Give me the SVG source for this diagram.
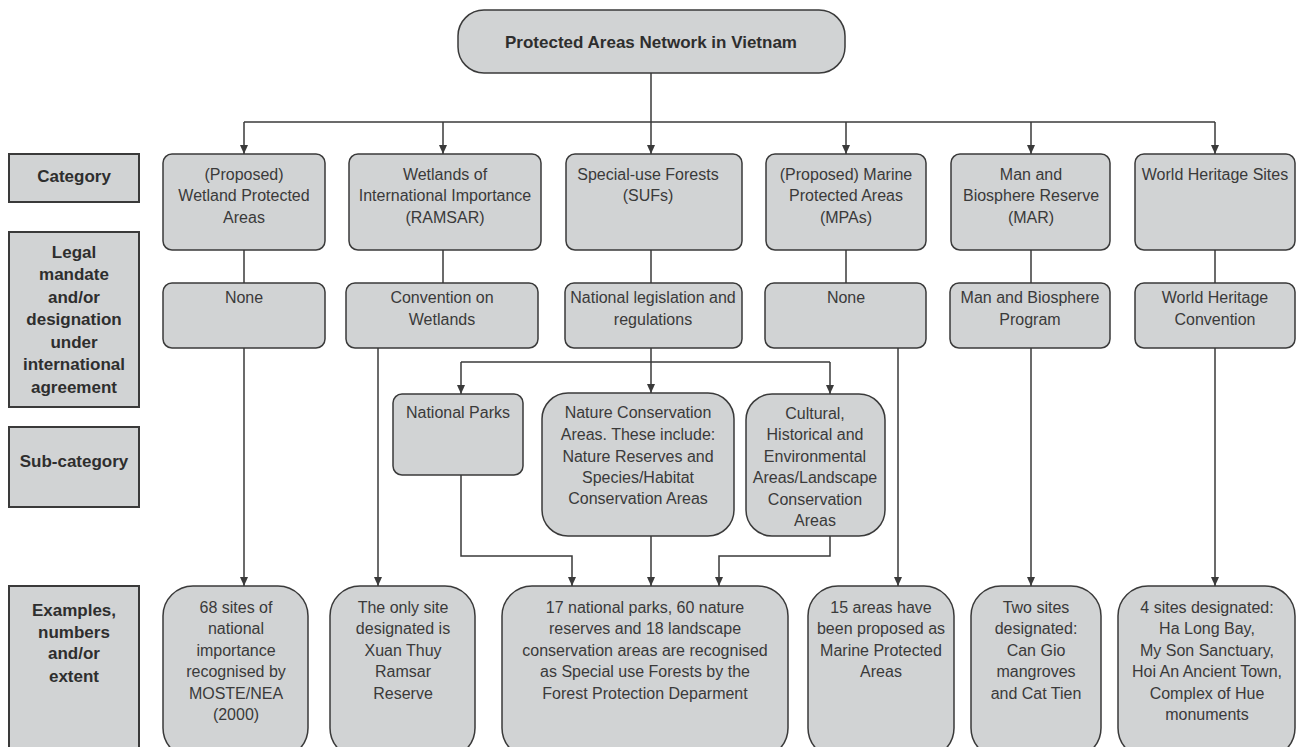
<svg xmlns="http://www.w3.org/2000/svg" width="1297" height="747" viewBox="0 0 1297 747">
<style>
.box{fill:#d1d3d4;stroke:#3a3a3a;stroke-width:1.5}
.lbl{fill:#d1d3d4;stroke:#3a3a3a;stroke-width:2}
.t{font-family:"Liberation Sans",Arial,sans-serif;font-size:16px;fill:#3a3a3a;text-anchor:middle}
.b{font-family:"Liberation Sans",Arial,sans-serif;font-size:17px;font-weight:bold;fill:#2e2e2e;text-anchor:middle}
.c{fill:none;stroke:#3a3a3a;stroke-width:1.5}
.a{marker-end:url(#arr)}
</style>
<defs>
<marker id="arr" markerUnits="userSpaceOnUse" markerWidth="9" markerHeight="8" refX="9" refY="4" orient="auto">
<path d="M0,0 L9,4 L0,8 z" fill="#3a3a3a"/>
</marker>
</defs>
<rect width="1297" height="747" fill="#ffffff"/>

<g id="connectors">
<path class="c" d="M651,73 V122"/>
<path class="c" d="M244,122 H1215"/>
<path class="c a" d="M244,122 V154"/>
<path class="c a" d="M443,122 V154"/>
<path class="c a" d="M651,122 V154"/>
<path class="c a" d="M846,122 V154"/>
<path class="c a" d="M1031,122 V154"/>
<path class="c a" d="M1215,122 V154"/>
<path class="c" d="M244,250 V283"/>
<path class="c" d="M443,250 V283"/>
<path class="c" d="M651,250 V283"/>
<path class="c" d="M846,250 V283"/>
<path class="c" d="M1031,250 V283"/>
<path class="c" d="M1215,250 V283"/>
<path class="c a" d="M244,348 V586"/>
<path class="c a" d="M378,348 V586"/>
<path class="c" d="M651,348 V362"/>
<path class="c" d="M461,362 H830"/>
<path class="c a" d="M461,362 V394"/>
<path class="c a" d="M651,362 V393"/>
<path class="c a" d="M830,362 V394"/>
<path class="c a" d="M898,348 V586"/>
<path class="c a" d="M1031,348 V586"/>
<path class="c a" d="M1215,348 V586"/>
<path class="c a" d="M461,475 V556 H572 V586"/>
<path class="c a" d="M651,536 V586"/>
<path class="c a" d="M830,536 V556 H719 V586"/>
</g>

<g id="root">
<rect class="box" x="458" y="10" width="387" height="63" rx="26"/>
<text class="b" x="651" y="48">Protected Areas Network in Vietnam</text>
</g>

<g id="label-category">
<rect class="lbl" x="9" y="154" width="130" height="48"/>
<text class="b" x="74" y="182">Category</text>
</g>
<g id="label-legal">
<rect class="lbl" x="9" y="232" width="130" height="175"/>
<text class="b" x="74" y="258">Legal</text>
<text class="b" x="74" y="280">mandate</text>
<text class="b" x="74" y="303">and/or</text>
<text class="b" x="74" y="325">designation</text>
<text class="b" x="74" y="348">under</text>
<text class="b" x="74" y="370">international</text>
<text class="b" x="74" y="393">agreement</text>
</g>
<g id="label-subcategory">
<rect class="lbl" x="9" y="427" width="130" height="80"/>
<text class="b" x="74" y="467">Sub-category</text>
</g>
<g id="label-examples">
<rect class="lbl" x="9" y="586" width="130" height="180"/>
<text class="b" x="74" y="616">Examples,</text>
<text class="b" x="74" y="638">numbers</text>
<text class="b" x="74" y="659">and/or</text>
<text class="b" x="74" y="682">extent</text>
</g>

<g id="cat-wetland">
<rect class="box" x="163" y="154" width="162" height="96" rx="9"/>
<text class="t" x="244" y="180">(Proposed)</text>
<text class="t" x="244" y="201">Wetland Protected</text>
<text class="t" x="244" y="223">Areas</text>
</g>
<g id="cat-ramsar">
<rect class="box" x="349" y="154" width="192" height="96" rx="9"/>
<text class="t" x="445" y="180">Wetlands of</text>
<text class="t" x="445" y="201">International Importance</text>
<text class="t" x="445" y="223">(RAMSAR)</text>
</g>
<g id="cat-suf">
<rect class="box" x="566" y="154" width="176" height="96" rx="9"/>
<text class="t" x="648" y="180">Special-use Forests</text>
<text class="t" x="648" y="201">(SUFs)</text>
</g>
<g id="cat-mpa">
<rect class="box" x="766" y="154" width="160" height="96" rx="9"/>
<text class="t" x="846" y="180">(Proposed) Marine</text>
<text class="t" x="846" y="201">Protected Areas</text>
<text class="t" x="846" y="223">(MPAs)</text>
</g>
<g id="cat-mab">
<rect class="box" x="951" y="154" width="159" height="96" rx="9"/>
<text class="t" x="1031" y="180">Man and</text>
<text class="t" x="1031" y="201">Biosphere Reserve</text>
<text class="t" x="1031" y="223">(MAR)</text>
</g>
<g id="cat-whs">
<rect class="box" x="1135" y="154" width="160" height="96" rx="9"/>
<text class="t" x="1215" y="180">World Heritage Sites</text>
</g>

<g id="legal-none1">
<rect class="box" x="163" y="283" width="162" height="65" rx="9"/>
<text class="t" x="244" y="303">None</text>
</g>
<g id="legal-ramsar">
<rect class="box" x="346" y="283" width="192" height="65" rx="9"/>
<text class="t" x="442" y="303">Convention on</text>
<text class="t" x="442" y="325">Wetlands</text>
</g>
<g id="legal-suf">
<rect class="box" x="565" y="283" width="177" height="65" rx="9"/>
<text class="t" x="653" y="303">National legislation and</text>
<text class="t" x="653" y="325">regulations</text>
</g>
<g id="legal-none2">
<rect class="box" x="765" y="283" width="161" height="65" rx="9"/>
<text class="t" x="846" y="303">None</text>
</g>
<g id="legal-mab">
<rect class="box" x="950" y="283" width="160" height="65" rx="9"/>
<text class="t" x="1030" y="303">Man and Biosphere</text>
<text class="t" x="1030" y="325">Program</text>
</g>
<g id="legal-whc">
<rect class="box" x="1135" y="283" width="160" height="65" rx="9"/>
<text class="t" x="1215" y="303">World Heritage</text>
<text class="t" x="1215" y="325">Convention</text>
</g>

<g id="sub-np">
<rect class="box" x="393" y="394" width="130" height="81" rx="9"/>
<text class="t" x="458" y="418">National Parks</text>
</g>
<g id="sub-nca">
<rect class="box" x="542" y="393" width="192" height="143" rx="26"/>
<text class="t" x="638" y="418">Nature Conservation</text>
<text class="t" x="638" y="440">Areas. These include:</text>
<text class="t" x="638" y="462">Nature Reserves and</text>
<text class="t" x="638" y="483">Species/Habitat</text>
<text class="t" x="638" y="504">Conservation Areas</text>
</g>
<g id="sub-cultural">
<rect class="box" x="746" y="394" width="139" height="142" rx="26"/>
<text class="t" x="815" y="419">Cultural,</text>
<text class="t" x="815" y="440">Historical and</text>
<text class="t" x="815" y="462">Environmental</text>
<text class="t" x="815" y="483">Areas/Landscape</text>
<text class="t" x="815" y="505">Conservation</text>
<text class="t" x="815" y="526">Areas</text>
</g>

<g id="ex-wetland">
<rect class="box" x="163" y="586" width="145" height="172" rx="30"/>
<text class="t" x="236" y="613">68 sites of</text>
<text class="t" x="236" y="634">national</text>
<text class="t" x="236" y="656">importance</text>
<text class="t" x="236" y="677">recognised by</text>
<text class="t" x="236" y="699">MOSTE/NEA</text>
<text class="t" x="236" y="720">(2000)</text>
</g>
<g id="ex-ramsar">
<rect class="box" x="330" y="586" width="145" height="172" rx="30"/>
<text class="t" x="403" y="613">The only site</text>
<text class="t" x="403" y="634">designated is</text>
<text class="t" x="403" y="656">Xuan Thuy</text>
<text class="t" x="403" y="677">Ramsar</text>
<text class="t" x="403" y="699">Reserve</text>
</g>
<g id="ex-suf">
<rect class="box" x="502" y="586" width="286" height="172" rx="30"/>
<text class="t" x="645" y="613">17 national parks, 60 nature</text>
<text class="t" x="645" y="634">reserves and 18 landscape</text>
<text class="t" x="645" y="656">conservation areas are recognised</text>
<text class="t" x="645" y="677">as Special use Forests by the</text>
<text class="t" x="645" y="699">Forest Protection Deparment</text>
</g>
<g id="ex-mpa">
<rect class="box" x="808" y="586" width="146" height="172" rx="30"/>
<text class="t" x="881" y="613">15 areas have</text>
<text class="t" x="881" y="634">been proposed as</text>
<text class="t" x="881" y="656">Marine Protected</text>
<text class="t" x="881" y="677">Areas</text>
</g>
<g id="ex-mab">
<rect class="box" x="971" y="586" width="130" height="172" rx="30"/>
<text class="t" x="1036" y="613">Two sites</text>
<text class="t" x="1036" y="634">designated:</text>
<text class="t" x="1036" y="656">Can Gio</text>
<text class="t" x="1036" y="677">mangroves</text>
<text class="t" x="1036" y="699">and Cat Tien</text>
</g>
<g id="ex-whs">
<rect class="box" x="1118" y="586" width="177" height="172" rx="30"/>
<text class="t" x="1207" y="613">4 sites designated:</text>
<text class="t" x="1207" y="634">Ha Long Bay,</text>
<text class="t" x="1207" y="656">My Son Sanctuary,</text>
<text class="t" x="1207" y="677">Hoi An Ancient Town,</text>
<text class="t" x="1207" y="699">Complex of Hue</text>
<text class="t" x="1207" y="720">monuments</text>
</g>
</svg>
